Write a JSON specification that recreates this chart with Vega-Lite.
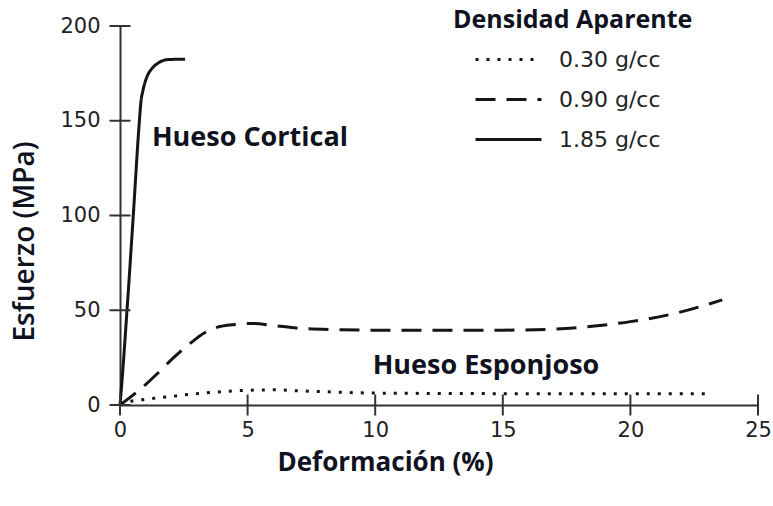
{
  "$schema": "https://vega.github.io/schema/vega-lite/v6.json",
  "width": 638,
  "height": 379,
  "autosize": "none",
  "padding": {"left": 120, "top": 26, "right": 15, "bottom": 101},
  "background": "white",
  "config": {
    "view": {"stroke": null},
    "axis": {
      "grid": false,
      "domainColor": "#333",
      "domainWidth": 2,
      "ticks": false,
      "labelFlush": false,
      "labelFont": "DejaVu Sans",
      "labelFontSize": 21,
      "labelColor": "#222",
      "titleFont": "Open Sans",
      "titleColor": "#10131f"
    }
  },
  "layer": [
    {
      "data": {
        "values": [
          {"d": "1.85 g/cc", "x": 0, "y": 0},
          {"d": "1.85 g/cc", "x": 0.05, "y": 8},
          {"d": "1.85 g/cc", "x": 0.3, "y": 55},
          {"d": "1.85 g/cc", "x": 0.52, "y": 100},
          {"d": "1.85 g/cc", "x": 0.76, "y": 150},
          {"d": "1.85 g/cc", "x": 0.82, "y": 160},
          {"d": "1.85 g/cc", "x": 0.9, "y": 166},
          {"d": "1.85 g/cc", "x": 1.05, "y": 173},
          {"d": "1.85 g/cc", "x": 1.25, "y": 177.5},
          {"d": "1.85 g/cc", "x": 1.5, "y": 180.5},
          {"d": "1.85 g/cc", "x": 1.9, "y": 182.3},
          {"d": "1.85 g/cc", "x": 2.55, "y": 182.5},
          {"d": "0.90 g/cc", "x": 0, "y": 0},
          {"d": "0.90 g/cc", "x": 0.85, "y": 9},
          {"d": "0.90 g/cc", "x": 1.5, "y": 17},
          {"d": "0.90 g/cc", "x": 2.1, "y": 25},
          {"d": "0.90 g/cc", "x": 2.75, "y": 32.5},
          {"d": "0.90 g/cc", "x": 3.3, "y": 38},
          {"d": "0.90 g/cc", "x": 3.8, "y": 41},
          {"d": "0.90 g/cc", "x": 4.5, "y": 42.5},
          {"d": "0.90 g/cc", "x": 5.2, "y": 43},
          {"d": "0.90 g/cc", "x": 6, "y": 42},
          {"d": "0.90 g/cc", "x": 7, "y": 40.5},
          {"d": "0.90 g/cc", "x": 8.5, "y": 39.8},
          {"d": "0.90 g/cc", "x": 10, "y": 39.5},
          {"d": "0.90 g/cc", "x": 12.5, "y": 39.5},
          {"d": "0.90 g/cc", "x": 15, "y": 39.5},
          {"d": "0.90 g/cc", "x": 17, "y": 40},
          {"d": "0.90 g/cc", "x": 18.5, "y": 41.5},
          {"d": "0.90 g/cc", "x": 20, "y": 44},
          {"d": "0.90 g/cc", "x": 21.8, "y": 48.5},
          {"d": "0.90 g/cc", "x": 23.6, "y": 55.5},
          {"d": "0.30 g/cc", "x": 0, "y": 0},
          {"d": "0.30 g/cc", "x": 0.3, "y": 1.5},
          {"d": "0.30 g/cc", "x": 1, "y": 3},
          {"d": "0.30 g/cc", "x": 2, "y": 4.5},
          {"d": "0.30 g/cc", "x": 3, "y": 6},
          {"d": "0.30 g/cc", "x": 4, "y": 7},
          {"d": "0.30 g/cc", "x": 5, "y": 7.8},
          {"d": "0.30 g/cc", "x": 6, "y": 8},
          {"d": "0.30 g/cc", "x": 7, "y": 7.5},
          {"d": "0.30 g/cc", "x": 8, "y": 7},
          {"d": "0.30 g/cc", "x": 10, "y": 6.3},
          {"d": "0.30 g/cc", "x": 15, "y": 6},
          {"d": "0.30 g/cc", "x": 20, "y": 6},
          {"d": "0.30 g/cc", "x": 23, "y": 6}
        ]
      },
      "mark": {"type": "line", "interpolate": "monotone", "color": "#151515", "strokeWidth": 3},
      "encoding": {
        "x": {
          "field": "x", "type": "quantitative",
          "scale": {"domain": [0, 25], "nice": false, "zero": false},
          "axis": {
            "orient": "bottom",
            "values": [0, 5, 10, 15, 20, 25],
            "labelPadding": 14,
            "title": "Deformación (%)",
            "titleFontSize": 26,
            "titleFontWeight": 700,
            "titleX": 265,
            "titleY": 57,
            "titleAlign": "center",
            "titleBaseline": "middle"
          }
        },
        "y": {
          "field": "y", "type": "quantitative",
          "scale": {"domain": [0, 200], "nice": false, "zero": false},
          "axis": {
            "orient": "left",
            "values": [0, 50, 100, 150, 200],
            "labelPadding": 20,
            "title": "Esfuerzo (MPa)",
            "titleFontSize": 28,
            "titleFontWeight": 600,
            "titleX": -95,
            "titleY": 215,
            "titleAngle": -90,
            "titleAlign": "center",
            "titleBaseline": "middle"
          }
        },
        "strokeDash": {
          "field": "d", "type": "nominal",
          "scale": {
            "domain": ["0.30 g/cc", "0.90 g/cc", "1.85 g/cc"],
            "range": [[3, 8], [20, 11], [1, 0]]
          },
          "legend": {
            "orient": "none",
            "legendX": 333,
            "legendY": -18,
            "padding": 0,
            "title": "Densidad Aparente",
            "titleLimit": 600,
            "titleFont": "Open Sans",
            "titleFontWeight": 700,
            "titleFontSize": 25,
            "titleColor": "#10131f",
            "titlePadding": 14,
            "labelFont": "DejaVu Sans",
            "labelFontSize": 22,
            "labelColor": "#222",
            "symbolType": "M-3,0H3",
            "symbolSize": 484,
            "symbolStrokeWidth": 3,
            "symbolStrokeColor": "#151515",
            "symbolOffset": 43,
            "labelOffset": 38,
            "rowPadding": 16
          }
        }
      }
    },
    {
      "data": {"values": [{"v": 0}, {"v": 5}, {"v": 10}, {"v": 15}, {"v": 20}, {"v": 25}]},
      "mark": {"type": "tick", "orient": "vertical", "size": 21, "thickness": 2, "color": "#333", "opacity": 1},
      "encoding": {
        "x": {"field": "v", "type": "quantitative"},
        "y": {"datum": 0, "type": "quantitative"}
      }
    },
    {
      "data": {"values": [{"v": 0}, {"v": 50}, {"v": 100}, {"v": 150}, {"v": 200}]},
      "mark": {"type": "tick", "orient": "horizontal", "size": 21, "thickness": 2, "color": "#333", "opacity": 1},
      "encoding": {
        "y": {"field": "v", "type": "quantitative"},
        "x": {"datum": 0, "type": "quantitative"}
      }
    },
    {
      "data": {
        "values": [
          {"x": 1.25, "y": 141, "label": "Hueso Cortical"},
          {"x": 9.9, "y": 20.6, "label": "Hueso Esponjoso"}
        ]
      },
      "mark": {"type": "text", "align": "left", "baseline": "middle", "font": "Open Sans", "fontWeight": 700, "fontSize": 27, "color": "#10131f"},
      "encoding": {
        "x": {"field": "x", "type": "quantitative"},
        "y": {"field": "y", "type": "quantitative"},
        "text": {"field": "label"}
      }
    }
  ]
}
